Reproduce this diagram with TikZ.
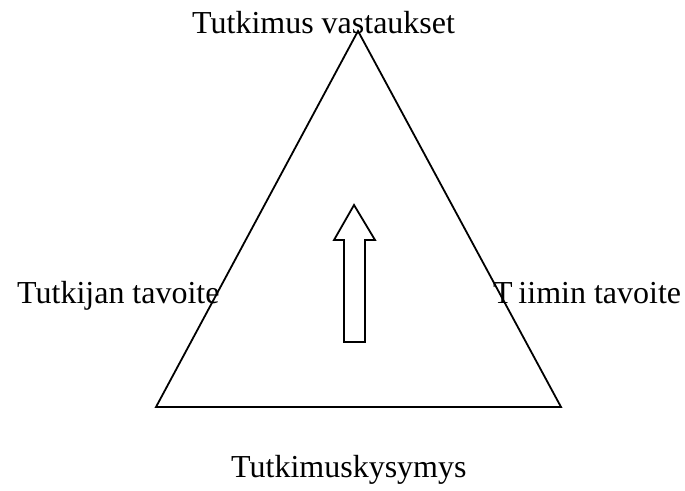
\documentclass[tikz,border=0pt]{standalone}
\usepackage{fontspec}
\setmainfont{Liberation Serif}
\begin{document}
\begin{tikzpicture}[x=1pt,y=-1pt,
  lbl/.style={font=\fontsize{32}{38}\selectfont, inner sep=0pt, anchor=base west},
  edge/.style={draw=black, line width=1.8pt, line join=miter}]
\useasboundingbox (0,0) rectangle (685,490);
\coordinate (apex) at (358,31);
\coordinate (bl) at (156,407);
\coordinate (br) at (561,407);
\draw[edge] (apex) -- (bl) -- (br) -- cycle;
\node[lbl] (top) at (192,33) {Tutkimus vastaukset};
\node[lbl] (left) at (17,303) {Tutkijan tavoite};
\node[lbl] (right) at (493,303) {T\hspace{0.18em}iimin tavoite};
\node[lbl] (bottom) at (231,477) {Tutkimuskysymys};
\draw[edge, fill=white] (354,205) -- (375,240) -- (365,240) -- (365,342) -- (344,342) -- (344,240) -- (334,240) -- cycle;
\end{tikzpicture}
\end{document}
